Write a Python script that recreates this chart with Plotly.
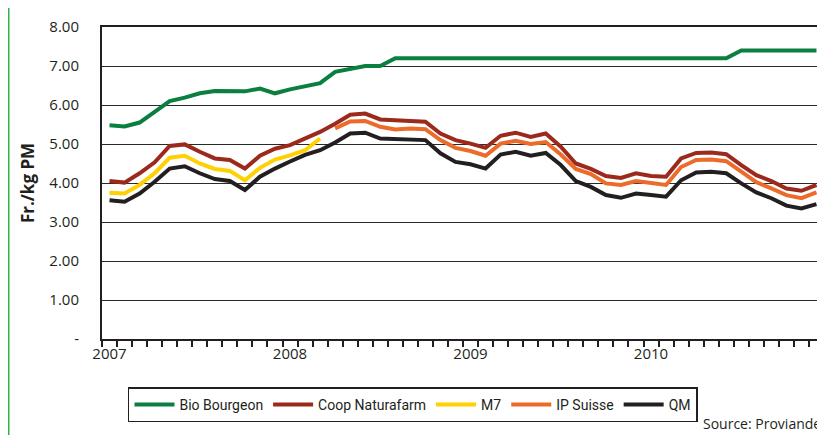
import plotly.graph_objects as go

years = [2007, 2008, 2009, 2010]
months = [f"{y}-{m:02d}" for y in years for m in range(1, 13)]
year_labels = ["2007", "2008", "2009", "2010"]
y_tick_vals = [0, 1, 2, 3, 4, 5, 6, 7, 8]
y_tick_text = ["-", "1.00", "2.00", "3.00", "4.00", "5.00", "6.00", "7.00", "8.00"]

bio_bourgeon = [5.48, 5.45, 5.55, 5.82, 6.10, 6.19, 6.30, 6.36, 6.36, 6.35, 6.42, 6.30,
                6.40, 6.48, 6.56, 6.85, 6.93, 7.00, 7.00, 7.20, 7.20, 7.20, 7.20, 7.20,
                7.20, 7.20, 7.20, 7.20, 7.20, 7.20, 7.20, 7.20, 7.20, 7.20, 7.20, 7.20,
                7.20, 7.20, 7.20, 7.20, 7.20, 7.20, 7.40, 7.40, 7.40, 7.40, 7.40, 7.40]
coop_naturafarm = [4.05, 4.01, 4.25, 4.53, 4.95, 4.99, 4.80, 4.63, 4.59, 4.37, 4.70, 4.88,
                   4.97, 5.14, 5.31, 5.52, 5.75, 5.78, 5.63, 5.61, 5.59, 5.57, 5.27, 5.10,
                   5.01, 4.90, 5.21, 5.29, 5.18, 5.27, 4.93, 4.50, 4.36, 4.18, 4.13, 4.25,
                   4.18, 4.16, 4.63, 4.77, 4.78, 4.74, 4.46, 4.20, 4.05, 3.86, 3.80, 3.95]
m7 = [3.75, 3.73, 3.95, 4.25, 4.65, 4.70, 4.50, 4.36, 4.31, 4.07, 4.39, 4.60,
      4.71, 4.84, 5.14] + [None] * 33
ip_suisse = [None] * 15 + [5.40, 5.58, 5.59, 5.44, 5.37, 5.40, 5.38, 5.10, 4.90,
                           4.82, 4.70, 5.01, 5.08, 5.00, 5.05, 4.73, 4.36, 4.23, 3.99, 3.95, 4.05,
                           3.99, 3.95, 4.41, 4.59, 4.60, 4.56, 4.29, 4.02, 3.86, 3.69, 3.61, 3.76]
qm = [3.56, 3.52, 3.73, 4.03, 4.37, 4.43, 4.25, 4.10, 4.05, 3.82, 4.16, 4.37,
      4.55, 4.72, 4.84, 5.04, 5.27, 5.29, 5.14, 5.12, 5.12, 5.10, 4.76, 4.54,
      4.48, 4.37, 4.73, 4.80, 4.70, 4.77, 4.46, 4.05, 3.90, 3.69, 3.62, 3.73,
      3.69, 3.65, 4.07, 4.27, 4.29, 4.25, 3.99, 3.76, 3.61, 3.42, 3.35, 3.46]

series = [
    ("Bio Bourgeon", bio_bourgeon, "#0a7f3f"),
    ("Coop Naturafarm", coop_naturafarm, "#9b2a1c"),
    ("M7", m7, "#ffd100"),
    ("IP Suisse", ip_suisse, "#ec6a2a"),
    ("QM", qm, "#231f20"),
]

x = list(range(len(months)))

fig = go.Figure()
for name, vals, color in series:
    fig.add_trace(go.Scatter(x=x, y=vals, name=name, mode="lines",
                             line=dict(color=color, width=4), connectgaps=False,
                             hoverinfo="x+y"))

year_pos = [months.index(f"{y}-01") for y in years]
bounds = [i - 0.5 for i in range(len(months) + 1)]

fig.update_layout(
    width=817, height=427,
    margin=dict(l=94, r=1, t=19, b=96),
    paper_bgcolor="white", plot_bgcolor="white",
    font=dict(family="Open Sans, sans-serif", size=15, color="#231f20"),
    showlegend=True,
    legend=dict(orientation="h", x=0.036, y=-0.155, xanchor="left", yanchor="top",
                bordercolor="#231f20", borderwidth=1.5, bgcolor="white",
                font=dict(family="Roboto, sans-serif", size=14, color="#231f20"),
                itemwidth=40, tracegroupgap=0),
    xaxis=dict(range=[-0.5, len(months) - 0.5], tickmode="array",
               tickvals=year_pos, ticktext=year_labels, ticks="",
               showgrid=False, zeroline=False, showline=True, linecolor="#231f20",
               linewidth=2, mirror=True,
               tickfont=dict(size=15),
               minor=dict(tickmode="array", tickvals=bounds, ticks="outside",
                          ticklen=6, tickwidth=1.5, tickcolor="#231f20", showgrid=False)),
    yaxis=dict(range=[0, 8], tickmode="array", tickvals=y_tick_vals, ticktext=y_tick_text,
               showgrid=True, gridcolor="#2a2a2a", gridwidth=1.2, zeroline=False,
               showline=True, linecolor="#231f20", linewidth=2,
               ticks="", ticklabelstandoff=18, tickfont=dict(size=15),
               title=dict(text="<b>Fr./kg PM</b>", font=dict(size=17), standoff=10)),
    shapes=[
        dict(type="line", xref="paper", yref="paper", x0=1, x1=1, y0=0, y1=1,
             line=dict(color="#999999", width=1.2)),
        dict(type="line", xref="paper", yref="paper", x0=-0.1295, x1=-0.1295,
             y0=-0.35, y1=1.1, line=dict(color="#2db34a", width=2)),
    ],
    annotations=[
        dict(text="Source: Proviande", xref="paper", yref="paper", x=0.999, y=-0.27,
             xanchor="right", yanchor="middle", showarrow=False,
             font=dict(size=14, color="#231f20")),
    ],
)

fig.write_html("out.html")
